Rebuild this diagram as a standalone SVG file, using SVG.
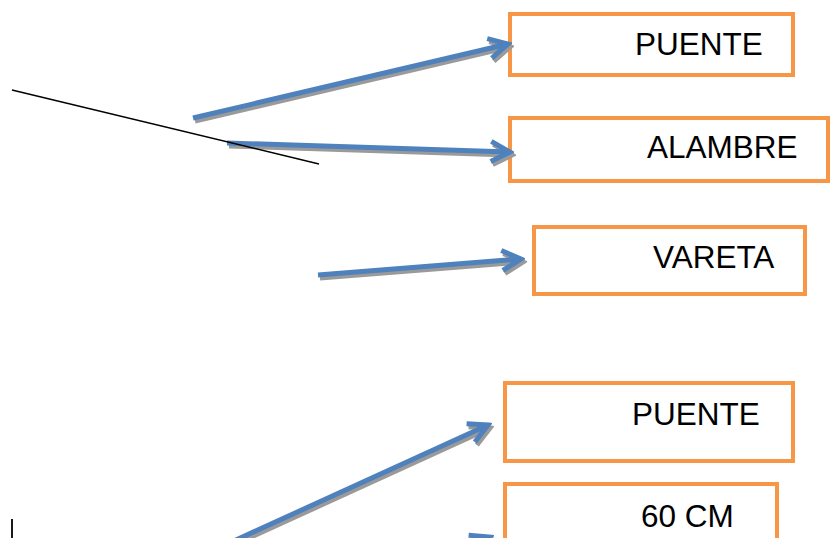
<svg xmlns="http://www.w3.org/2000/svg" width="830" height="538" viewBox="0 0 830 538">
<style>
.box rect{fill:#fff;stroke:#F79646;stroke-width:4}
.box text{font-family:"Liberation Sans",Arial,sans-serif;font-size:31.5px;fill:#000}
.arr{fill:none;stroke:#4F81BD;stroke-width:5}
.sh{fill:none;stroke:#9A9A9A;stroke-width:5}
.thin{stroke:#000;stroke-width:1.4;fill:none}
</style>
<defs>
<marker id="hb" viewBox="0 0 28 28" refX="24" refY="14" markerWidth="28" markerHeight="28" markerUnits="userSpaceOnUse" orient="auto">
<path d="M5,4 L24,14 L5,24" fill="none" stroke="#4F81BD" stroke-width="5"/>
</marker>
<marker id="hs" viewBox="0 0 28 28" refX="24" refY="14" markerWidth="28" markerHeight="28" markerUnits="userSpaceOnUse" orient="auto">
<path d="M5,4 L24,14 L5,24" fill="none" stroke="#9A9A9A" stroke-width="5"/>
</marker>
</defs>
<rect width="830" height="538" fill="#fff"/>
<g id="n1" class="box"><rect x="510" y="14" width="283" height="61"/><text x="635" y="55">PUENTE</text></g>
<g id="n2" class="box"><rect x="510" y="118" width="318" height="63"/><text x="647" y="158">ALAMBRE</text></g>
<g id="n3" class="box"><rect x="534" y="227" width="271" height="67"/><text x="653" y="268">VARETA</text></g>
<g id="n4" class="box"><rect x="505" y="383" width="288" height="78"/><text x="632" y="425">PUENTE</text></g>
<g id="n5" class="box"><rect x="505" y="484" width="272" height="80"/><text x="641" y="527">60 CM</text></g>
<g id="connectors">
<g transform="translate(2,3)">
<path class="sh" d="M193,118 L508,44" marker-end="url(#hs)"/>
<path class="sh" d="M227,143 L510,152" marker-end="url(#hs)"/>
<path class="sh" d="M318,275 L521,259" marker-end="url(#hs)"/>
<path class="sh" d="M225,545 L488,425" marker-end="url(#hs)"/>
<path class="sh" d="M400,575 L490,537" marker-end="url(#hs)"/>
</g>
<path class="arr" d="M193,118 L508,44" marker-end="url(#hb)"/>
<path class="arr" d="M227,143 L510,152" marker-end="url(#hb)"/>
<path class="arr" d="M318,275 L521,259" marker-end="url(#hb)"/>
<path class="arr" d="M225,545 L488,425" marker-end="url(#hb)"/>
<path class="arr" d="M400,575 L490,537" marker-end="url(#hb)"/>
</g>
<line class="thin" x1="12" y1="90" x2="319" y2="164"/>
<line class="thin" x1="12" y1="519" x2="12" y2="538" style="stroke-width:1.8"/>
</svg>
